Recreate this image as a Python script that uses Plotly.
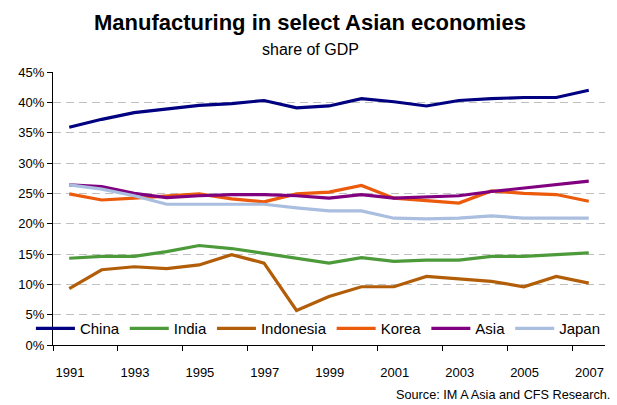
import plotly.graph_objects as go

years = list(range(1991, 2008))
china = [35.9, 37.2, 38.3, 38.9, 39.5, 39.8, 40.3, 39.1, 39.4, 40.6, 40.1, 39.4, 40.3, 40.6, 40.8, 40.8, 42.0]
india = [14.3, 14.6, 14.6, 15.4, 16.4, 15.9, 15.1, 14.3, 13.5, 14.4, 13.8, 14.0, 14.0, 14.6, 14.6, 14.9, 15.2]
indonesia = [9.3, 12.4, 12.9, 12.6, 13.2, 14.9, 13.5, 5.7, 8.0, 9.6, 9.6, 11.3, 10.9, 10.5, 9.6, 11.3, 10.2]
korea = [24.9, 23.9, 24.2, 24.6, 24.9, 24.1, 23.6, 24.9, 25.2, 26.3, 24.2, 23.8, 23.4, 25.4, 25.0, 24.8, 23.7]
asia = [26.4, 26.1, 25.0, 24.3, 24.6, 24.8, 24.8, 24.6, 24.2, 24.8, 24.2, 24.4, 24.6, 25.3, 25.9, 26.4, 27.0]
japan = [26.4, 25.7, 24.6, 23.2, 23.2, 23.2, 23.2, 22.6, 22.1, 22.1, 20.9, 20.8, 20.9, 21.3, 20.9, 20.9, 20.9]

series_names = ["China", "India", "Indonesia", "Korea", "Asia", "Japan"]
series_values = [china, india, indonesia, korea, asia, japan]
series_colors = ["#000080", "#4C9A3A", "#B25E08", "#EC5A0C", "#800080", "#AABEE0"]

tick_years = [1991, 1993, 1995, 1997, 1999, 2001, 2003, 2005, 2007]
y_ticks = [0, 5, 10, 15, 20, 25, 30, 35, 40, 45]

fig = go.Figure()
for name, vals, col in zip(series_names, series_values, series_colors):
    fig.add_trace(go.Scatter(x=years, y=vals, name=name, mode="lines",
                             line=dict(color=col, width=3.2)))

font_family = "Liberation Sans, Arial, sans-serif"

fig.update_layout(
    width=617, height=405,
    margin=dict(l=53, r=12, t=72, b=60),
    paper_bgcolor="white", plot_bgcolor="white",
    font=dict(family=font_family, color="black", size=13),
    showlegend=True,
    legend=dict(orientation="h", x=-0.04, xanchor="left", y=-0.0001, yanchor="bottom",
                font=dict(size=15, family=font_family), bgcolor="rgba(255,255,255,0)",
                itemwidth=39, tracegroupgap=0),
    xaxis=dict(range=[1990.5, 2007.5], tickmode="array",
               tickvals=[y - 0.5 for y in tick_years],
               ticktext=[str(y) for y in tick_years],
               ticklabelshift=17, ticklabelstandoff=10,
               ticks="outside", ticklen=5, tickcolor="black",
               showline=True, linecolor="black", linewidth=1,
               showgrid=False, zeroline=False, tickfont=dict(size=13)),
    yaxis=dict(range=[0, 45], tickmode="array", tickvals=y_ticks,
               ticktext=[f"{v}%" for v in y_ticks],
               ticks="outside", ticklen=5, tickcolor="black",
               showline=True, linecolor="black", linewidth=1,
               showgrid=True, gridcolor="#C0C0C0", griddash="8px,5px", gridwidth=1,
               zeroline=False, tickfont=dict(size=13)),
    annotations=[
        dict(text="<b>Manufacturing in select Asian economies</b>", xref="paper", yref="paper",
             x=0.466, y=1.183, xanchor="center", yanchor="middle", showarrow=False,
             font=dict(size=22, family=font_family)),
        dict(text="share of GDP", xref="paper", yref="paper",
             x=0.466, y=1.081, xanchor="center", yanchor="middle", showarrow=False,
             font=dict(size=16, family=font_family)),
        dict(text="Source: IM A Asia and CFS Research.", xref="paper", yref="paper",
             x=1.0127, y=(345 - 395) / 273, xanchor="right", yanchor="middle", showarrow=False,
             font=dict(size=12.7, family=font_family)),
    ],
)

fig.write_html("out.html")
